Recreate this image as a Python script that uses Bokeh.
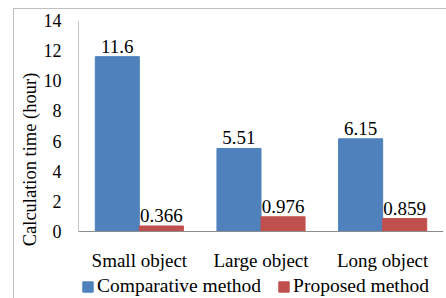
from bokeh.plotting import figure
from bokeh.models import (ColumnDataSource, FactorRange, Range1d, FixedTicker, LabelSet,
                          Legend, LegendItem, LinearAxis)
from bokeh.transform import dodge
from bokeh.embed import file_html
from bokeh.resources import INLINE

categories = ["Small object", "Large object", "Long object"]
comparative = [11.6, 5.51, 6.15]
proposed = [0.366, 0.976, 0.859]
comparative_labels = ["11.6", "5.51", "6.15"]
proposed_labels = ["0.366", "0.976", "0.859"]
y_ticks = [0, 2, 4, 6, 8, 10, 12, 14]
series_names = ["Comparative method", "Proposed method"]

FONT = "Liberation Serif"
BLUE = "#4F81BD"
RED = "#C0504D"
AXIS = "#8C8C8C"
GRID = "#BFBFBF"

# plot area: value 0 sits 67px above the bottom of the canvas; room below 0 holds labels & legend
Y_BOTTOM = -67 * 14 / 211.0

src = ColumnDataSource(dict(cat=categories, comp=comparative, prop=proposed,
                            comp_lbl=comparative_labels, prop_lbl=proposed_labels))

p = figure(x_range=FactorRange(factors=categories, range_padding=0),
           y_range=Range1d(Y_BOTTOM, 14),
           width=446, height=298,
           output_backend="svg", toolbar_location=None,
           min_border_left=78, min_border_right=3, min_border_top=20, min_border_bottom=0)
p.border_fill_alpha = 0
p.styles = {
    "background": ("linear-gradient(%s,%s) 13px 8px / 1px 100%% no-repeat, "
                   "linear-gradient(%s,%s) 13px 8px / 100%% 1px no-repeat, #FFFFFF")
                  % (GRID, GRID, GRID, GRID)
}

bw = 0.362
r1 = p.vbar(x=dodge("cat", -bw / 2, range=p.x_range), top="comp", width=bw, source=src,
            fill_color=BLUE, line_color=BLUE)
r2 = p.vbar(x=dodge("cat", bw / 2, range=p.x_range), top="prop", width=bw, source=src,
            fill_color=RED, line_color=RED)

for xo, col in ((-bw / 2, "comp"), (bw / 2, "prop")):
    ls = LabelSet(x=dodge("cat", xo, range=p.x_range), y=col, text=col + "_lbl", source=src,
                  text_align="center", text_baseline="bottom", y_offset=4,
                  text_font=FONT, text_font_size="19px", text_color="#000000")
    p.add_layout(ls)

p.xgrid.grid_line_color = None
p.ygrid.grid_line_color = None
p.outline_line_color = None

# main y axis: tick labels + title (line hidden)
ya = p.yaxis[0]
ya.ticker = FixedTicker(ticks=y_ticks)
ya.bounds = (2 * 6.0 - 14, 14)
ya.major_tick_line_color = None
ya.minor_tick_line_color = None
ya.major_tick_out = 0
ya.major_tick_in = 0
ya.axis_line_color = None
ya.major_label_standoff = 17
ya.major_label_text_font = FONT
ya.major_label_text_font_size = "18px"
ya.major_label_text_color = "#000000"
ya.axis_label = "Calculation time (hour)"
ya.axis_label_text_font = FONT
ya.axis_label_text_font_size = "18.5px"
ya.axis_label_text_font_style = "normal"
ya.axis_label_text_color = "#000000"
ya.axis_label_standoff = 1

# y axis line from 0 to 14 only
yline = LinearAxis(fixed_location=0.004, bounds=(0, 14), ticker=FixedTicker(ticks=y_ticks),
                   axis_line_color=AXIS, major_tick_line_color=None, minor_tick_line_color=None,
                   major_label_text_alpha=0, major_label_text_font_size="1px")
p.add_layout(yline, "left")

xa = p.xaxis[0]
xa.fixed_location = 0
xa.major_tick_line_color = None
xa.minor_tick_line_color = None
xa.major_tick_out = 0
xa.major_tick_in = 0
xa.axis_line_color = AXIS
xa.major_label_standoff = 18
xa.major_label_text_font = FONT
xa.major_label_text_font_size = "19px"
xa.major_label_text_color = "#000000"

legend = Legend(items=[LegendItem(label=series_names[0], renderers=[r1]),
                       LegendItem(label=series_names[1], renderers=[r2])],
                orientation="horizontal", location=(3, 1),
                padding=0, margin=0, spacing=16,
                glyph_width=13, glyph_height=13, label_standoff=3,
                label_text_font=FONT, label_text_font_size="19.5px",
                label_text_color="#000000",
                border_line_color=None, background_fill_alpha=0)
p.add_layout(legend, "center")

open("out.html", "w").write(file_html(p, INLINE))
